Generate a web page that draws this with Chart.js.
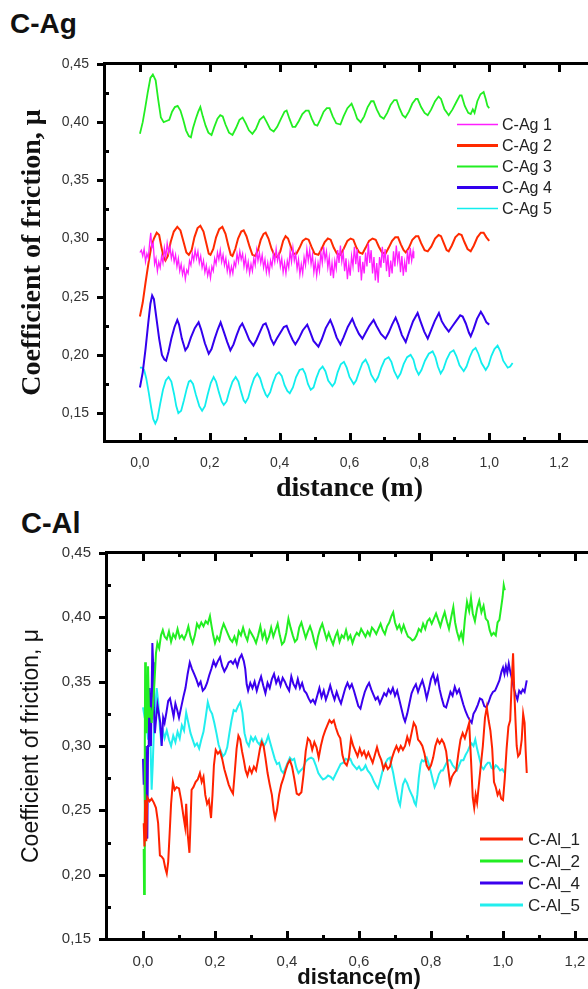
<!DOCTYPE html>
<html><head><meta charset="utf-8">
<script src="https://cdn.jsdelivr.net/npm/chart.js@4.4.1/dist/chart.umd.min.js"></script>
<style>
html,body{margin:0;padding:0;background:#fff;width:588px;height:989px;overflow:hidden;position:relative;}
.ttl{position:absolute;font-family:'Liberation Sans',Arial,sans-serif;font-weight:bold;color:#111;white-space:nowrap;}
#t1{left:10px;top:10px;font-size:28px;line-height:28px;}
#t2{left:21px;top:509px;font-size:29px;line-height:29px;}
canvas{position:absolute;left:0;}
#c1{top:0;}
#c2{top:505px;}
</style></head><body>
<div class="ttl" id="t1">C-Ag</div>
<div class="ttl" id="t2">C-Al</div>
<canvas id="c1" width="620" height="520"></canvas>
<canvas id="c2" width="620" height="500"></canvas>
<script>
// ---------- tick values & labels ----------
const xTicks = [0, 0.2, 0.4, 0.6, 0.8, 1.0, 1.2];
const xTickLabels = ['0,0', '0,2', '0,4', '0,6', '0,8', '1,0', '1,2'];
const xMinor = [0.1, 0.3, 0.5, 0.7, 0.9, 1.1];
const yTicks = [0.15, 0.20, 0.25, 0.30, 0.35, 0.40, 0.45];
const yTickLabels = ['0,15', '0,20', '0,25', '0,30', '0,35', '0,40', '0,45'];
const yMinor = [0.175, 0.225, 0.275, 0.325, 0.375, 0.425];

// ---------- C-Ag series ----------
const agLabels = ['C-Ag 1', 'C-Ag 2', 'C-Ag 3', 'C-Ag 4', 'C-Ag 5'];
const ag1 = [[0.000,0.288],[0.004,0.290],[0.008,0.285],[0.012,0.291],[0.016,0.280],[0.020,0.287],[0.024,0.283],[0.028,0.297],[0.031,0.305],[0.034,0.292],[0.038,0.296],[0.042,0.278],[0.046,0.283],[0.050,0.272],[0.054,0.280],[0.058,0.275],[0.062,0.285],[0.066,0.279],[0.070,0.292],[0.074,0.284],[0.078,0.296],[0.082,0.288],[0.086,0.293],[0.090,0.283],[0.094,0.289],[0.098,0.280],[0.102,0.286],[0.106,0.276],[0.110,0.283],[0.114,0.272],[0.118,0.278],[0.122,0.269],[0.126,0.275],[0.130,0.265],[0.134,0.273],[0.138,0.270],[0.142,0.281],[0.146,0.277],[0.150,0.287],[0.154,0.281],[0.158,0.290],[0.162,0.283],[0.166,0.289],[0.170,0.279],[0.174,0.285],[0.178,0.275],[0.182,0.281],[0.186,0.271],[0.190,0.277],[0.194,0.268],[0.198,0.274],[0.202,0.266],[0.206,0.276],[0.210,0.272],[0.214,0.283],[0.218,0.278],[0.222,0.288],[0.226,0.282],[0.230,0.290],[0.234,0.280],[0.238,0.286],[0.242,0.277],[0.246,0.283],[0.250,0.272],[0.254,0.279],[0.258,0.269],[0.262,0.276],[0.266,0.270],[0.270,0.280],[0.274,0.276],[0.278,0.287],[0.282,0.280],[0.286,0.289],[0.290,0.282],[0.294,0.287],[0.298,0.276],[0.302,0.284],[0.306,0.273],[0.310,0.280],[0.314,0.270],[0.318,0.278],[0.322,0.272],[0.326,0.283],[0.330,0.277],[0.334,0.290],[0.338,0.281],[0.342,0.288],[0.346,0.279],[0.350,0.286],[0.354,0.275],[0.358,0.282],[0.362,0.271],[0.366,0.279],[0.370,0.270],[0.374,0.281],[0.378,0.276],[0.382,0.287],[0.386,0.280],[0.390,0.291],[0.394,0.281],[0.398,0.287],[0.402,0.276],[0.406,0.283],[0.410,0.271],[0.414,0.279],[0.418,0.270],[0.422,0.281],[0.426,0.275],[0.430,0.289],[0.434,0.280],[0.438,0.292],[0.442,0.281],[0.446,0.287],[0.450,0.274],[0.454,0.282],[0.458,0.269],[0.462,0.278],[0.466,0.270],[0.470,0.284],[0.474,0.277],[0.478,0.291],[0.482,0.281],[0.486,0.290],[0.490,0.278],[0.494,0.286],[0.498,0.271],[0.502,0.280],[0.506,0.268],[0.510,0.279],[0.514,0.272],[0.518,0.288],[0.522,0.279],[0.526,0.293],[0.530,0.282],[0.534,0.289],[0.538,0.275],[0.542,0.284],[0.546,0.268],[0.550,0.279],[0.554,0.266],[0.558,0.281],[0.562,0.274],[0.566,0.290],[0.570,0.279],[0.574,0.294],[0.578,0.280],[0.582,0.288],[0.586,0.272],[0.590,0.283],[0.594,0.265],[0.598,0.278],[0.602,0.268],[0.606,0.285],[0.610,0.276],[0.614,0.293],[0.618,0.278],[0.622,0.291],[0.626,0.271],[0.630,0.285],[0.634,0.264],[0.638,0.280],[0.642,0.270],[0.646,0.288],[0.650,0.276],[0.654,0.296],[0.658,0.279],[0.662,0.290],[0.666,0.270],[0.670,0.284],[0.674,0.264],[0.678,0.279],[0.682,0.262],[0.686,0.284],[0.690,0.275],[0.694,0.293],[0.698,0.279],[0.702,0.291],[0.706,0.272],[0.710,0.286],[0.714,0.267],[0.718,0.281],[0.722,0.270],[0.726,0.289],[0.730,0.276],[0.734,0.294],[0.738,0.280],[0.742,0.289],[0.746,0.271],[0.750,0.285],[0.754,0.268],[0.758,0.280],[0.762,0.271],[0.766,0.290],[0.770,0.278],[0.774,0.292],[0.778,0.281],[0.782,0.289],[0.784,0.283]];
const ag2 = [[0.000,0.233],[0.008,0.245],[0.016,0.262],[0.024,0.278],[0.032,0.292],[0.040,0.300],[0.048,0.305],[0.055,0.303],[0.062,0.292],[0.068,0.284],[0.073,0.281],[0.080,0.285],[0.088,0.297],[0.097,0.306],[0.107,0.310],[0.116,0.307],[0.125,0.297],[0.133,0.288],[0.140,0.286],[0.148,0.290],[0.156,0.301],[0.165,0.309],[0.173,0.311],[0.182,0.306],[0.190,0.296],[0.197,0.287],[0.202,0.286],[0.210,0.291],[0.218,0.301],[0.227,0.308],[0.236,0.310],[0.245,0.304],[0.253,0.294],[0.260,0.286],[0.265,0.285],[0.273,0.291],[0.281,0.300],[0.290,0.306],[0.297,0.307],[0.305,0.302],[0.314,0.293],[0.322,0.286],[0.330,0.285],[0.338,0.290],[0.346,0.299],[0.354,0.304],[0.360,0.305],[0.368,0.300],[0.377,0.291],[0.386,0.285],[0.394,0.284],[0.402,0.289],[0.410,0.298],[0.417,0.302],[0.424,0.300],[0.432,0.293],[0.440,0.287],[0.448,0.287],[0.457,0.292],[0.466,0.298],[0.475,0.300],[0.483,0.299],[0.491,0.293],[0.500,0.287],[0.511,0.286],[0.520,0.291],[0.529,0.297],[0.538,0.300],[0.546,0.299],[0.555,0.292],[0.564,0.287],[0.574,0.286],[0.583,0.291],[0.594,0.298],[0.603,0.300],[0.611,0.299],[0.620,0.292],[0.628,0.288],[0.637,0.287],[0.646,0.292],[0.656,0.298],[0.666,0.300],[0.675,0.299],[0.684,0.293],[0.693,0.288],[0.703,0.287],[0.712,0.292],[0.722,0.298],[0.731,0.301],[0.739,0.301],[0.747,0.295],[0.755,0.290],[0.761,0.288],[0.770,0.292],[0.780,0.299],[0.790,0.302],[0.797,0.302],[0.805,0.296],[0.815,0.290],[0.824,0.289],[0.834,0.293],[0.845,0.300],[0.855,0.303],[0.862,0.302],[0.870,0.296],[0.878,0.290],[0.884,0.289],[0.893,0.294],[0.903,0.301],[0.913,0.304],[0.921,0.303],[0.929,0.297],[0.938,0.291],[0.947,0.289],[0.956,0.294],[0.966,0.301],[0.976,0.305],[0.984,0.305],[0.992,0.301],[1.000,0.298]];
const ag3 = [[0.000,0.390],[0.008,0.400],[0.015,0.412],[0.022,0.425],[0.030,0.438],[0.037,0.441],[0.045,0.436],[0.052,0.420],[0.060,0.404],[0.068,0.400],[0.076,0.401],[0.084,0.402],[0.092,0.409],[0.100,0.413],[0.108,0.414],[0.116,0.410],[0.124,0.402],[0.132,0.393],[0.140,0.388],[0.146,0.387],[0.152,0.395],[0.160,0.403],[0.167,0.409],[0.173,0.413],[0.180,0.405],[0.188,0.397],[0.196,0.391],[0.205,0.389],[0.213,0.396],[0.222,0.403],[0.230,0.406],[0.237,0.405],[0.245,0.398],[0.255,0.391],[0.265,0.389],[0.275,0.395],[0.285,0.402],[0.294,0.404],[0.303,0.399],[0.312,0.393],[0.322,0.390],[0.332,0.394],[0.343,0.402],[0.354,0.405],[0.363,0.400],[0.373,0.394],[0.383,0.392],[0.393,0.396],[0.404,0.403],[0.414,0.409],[0.420,0.410],[0.428,0.403],[0.437,0.396],[0.445,0.396],[0.455,0.401],[0.465,0.407],[0.475,0.410],[0.483,0.410],[0.492,0.403],[0.500,0.398],[0.508,0.397],[0.516,0.402],[0.526,0.409],[0.535,0.412],[0.543,0.412],[0.552,0.405],[0.562,0.399],[0.574,0.398],[0.583,0.405],[0.594,0.412],[0.606,0.416],[0.614,0.410],[0.622,0.403],[0.632,0.400],[0.642,0.405],[0.652,0.413],[0.662,0.418],[0.669,0.418],[0.678,0.411],[0.688,0.405],[0.698,0.403],[0.708,0.408],[0.718,0.415],[0.728,0.419],[0.735,0.419],[0.743,0.412],[0.752,0.406],[0.760,0.404],[0.770,0.409],[0.780,0.416],[0.790,0.420],[0.795,0.420],[0.805,0.413],[0.815,0.408],[0.824,0.406],[0.834,0.411],[0.845,0.418],[0.855,0.422],[0.862,0.420],[0.872,0.411],[0.884,0.406],[0.895,0.411],[0.907,0.418],[0.916,0.423],[0.921,0.423],[0.930,0.414],[0.940,0.408],[0.947,0.407],[0.953,0.411],[0.958,0.408],[0.966,0.418],[0.975,0.424],[0.984,0.426],[0.990,0.420],[0.995,0.414],[1.000,0.412]];
const ag4 = [[0.000,0.172],[0.008,0.185],[0.016,0.205],[0.024,0.228],[0.030,0.244],[0.035,0.251],[0.040,0.248],[0.047,0.232],[0.055,0.214],[0.063,0.200],[0.070,0.196],[0.075,0.195],[0.082,0.203],[0.090,0.214],[0.099,0.224],[0.107,0.230],[0.112,0.226],[0.120,0.214],[0.130,0.204],[0.137,0.207],[0.146,0.215],[0.157,0.223],[0.168,0.228],[0.175,0.222],[0.186,0.210],[0.197,0.201],[0.205,0.205],[0.214,0.214],[0.223,0.222],[0.231,0.228],[0.240,0.220],[0.250,0.211],[0.259,0.204],[0.268,0.209],[0.277,0.217],[0.286,0.224],[0.293,0.227],[0.302,0.221],[0.313,0.213],[0.325,0.208],[0.334,0.213],[0.344,0.220],[0.353,0.226],[0.360,0.227],[0.368,0.221],[0.375,0.214],[0.383,0.209],[0.392,0.214],[0.402,0.219],[0.412,0.224],[0.420,0.225],[0.428,0.219],[0.437,0.213],[0.445,0.209],[0.455,0.214],[0.466,0.221],[0.479,0.226],[0.487,0.220],[0.497,0.212],[0.511,0.207],[0.520,0.213],[0.532,0.223],[0.545,0.230],[0.553,0.224],[0.563,0.215],[0.574,0.209],[0.583,0.215],[0.595,0.224],[0.608,0.231],[0.616,0.225],[0.627,0.218],[0.637,0.214],[0.646,0.219],[0.657,0.225],[0.669,0.230],[0.677,0.225],[0.690,0.218],[0.703,0.214],[0.712,0.219],[0.722,0.226],[0.732,0.232],[0.740,0.226],[0.750,0.217],[0.761,0.211],[0.770,0.219],[0.782,0.229],[0.795,0.236],[0.803,0.229],[0.814,0.220],[0.824,0.214],[0.832,0.220],[0.844,0.229],[0.856,0.236],[0.864,0.229],[0.874,0.224],[0.884,0.220],[0.893,0.224],[0.905,0.229],[0.917,0.234],[0.924,0.233],[0.933,0.227],[0.942,0.219],[0.947,0.216],[0.955,0.222],[0.965,0.231],[0.976,0.237],[0.984,0.233],[0.992,0.228],[1.000,0.226]];
const ag5 = [[0.000,0.189],[0.006,0.189],[0.012,0.187],[0.018,0.180],[0.025,0.168],[0.032,0.155],[0.038,0.145],[0.044,0.141],[0.050,0.145],[0.058,0.158],[0.066,0.170],[0.074,0.178],[0.082,0.181],[0.090,0.177],[0.098,0.166],[0.104,0.156],[0.110,0.150],[0.118,0.152],[0.126,0.161],[0.134,0.171],[0.140,0.177],[0.145,0.178],[0.152,0.175],[0.160,0.166],[0.170,0.156],[0.178,0.152],[0.186,0.156],[0.194,0.166],[0.203,0.176],[0.211,0.181],[0.218,0.177],[0.226,0.168],[0.234,0.160],[0.240,0.157],[0.248,0.160],[0.256,0.169],[0.265,0.177],[0.274,0.181],[0.282,0.177],[0.290,0.168],[0.297,0.161],[0.302,0.159],[0.310,0.163],[0.318,0.172],[0.327,0.180],[0.336,0.184],[0.344,0.180],[0.352,0.172],[0.360,0.166],[0.365,0.164],[0.373,0.168],[0.381,0.176],[0.390,0.183],[0.398,0.185],[0.406,0.182],[0.414,0.174],[0.422,0.169],[0.429,0.167],[0.438,0.172],[0.447,0.181],[0.457,0.187],[0.466,0.188],[0.473,0.184],[0.481,0.175],[0.489,0.170],[0.497,0.172],[0.505,0.180],[0.514,0.187],[0.523,0.190],[0.531,0.186],[0.539,0.178],[0.551,0.173],[0.558,0.176],[0.566,0.185],[0.575,0.192],[0.584,0.194],[0.592,0.189],[0.600,0.181],[0.612,0.175],[0.619,0.178],[0.628,0.186],[0.637,0.193],[0.646,0.196],[0.654,0.191],[0.662,0.183],[0.674,0.177],[0.682,0.181],[0.691,0.189],[0.701,0.196],[0.712,0.198],[0.720,0.194],[0.728,0.186],[0.738,0.180],[0.746,0.184],[0.755,0.192],[0.765,0.198],[0.775,0.200],[0.783,0.196],[0.790,0.188],[0.798,0.183],[0.806,0.187],[0.816,0.195],[0.827,0.201],[0.838,0.203],[0.846,0.198],[0.853,0.190],[0.861,0.184],[0.869,0.188],[0.878,0.196],[0.888,0.202],[0.898,0.204],[0.906,0.199],[0.915,0.191],[0.927,0.186],[0.935,0.190],[0.944,0.198],[0.953,0.204],[0.961,0.206],[0.969,0.201],[0.978,0.193],[0.990,0.187],[0.998,0.191],[1.006,0.199],[1.015,0.205],[1.024,0.208],[1.032,0.203],[1.040,0.195],[1.053,0.189],[1.060,0.190],[1.067,0.193]];

// ---------- C-Al series ----------
const alLabels = ['C-Al_1', 'C-Al_2', 'C-Al_4', 'C-Al_5'];
const al1 = [[0.002,0.240],[0.004,0.222],[0.006,0.258],[0.009,0.226],[0.012,0.260],[0.018,0.257],[0.024,0.259],[0.030,0.256],[0.036,0.252],[0.042,0.240],[0.047,0.215],[0.052,0.214],[0.057,0.212],[0.062,0.205],[0.066,0.201],[0.070,0.210],[0.074,0.232],[0.078,0.255],[0.083,0.272],[0.088,0.266],[0.093,0.268],[0.100,0.267],[0.106,0.258],[0.112,0.246],[0.117,0.237],[0.120,0.255],[0.124,0.232],[0.129,0.217],[0.132,0.240],[0.135,0.266],[0.140,0.268],[0.146,0.272],[0.152,0.274],[0.158,0.279],[0.163,0.272],[0.168,0.276],[0.173,0.262],[0.178,0.255],[0.183,0.258],[0.189,0.244],[0.193,0.262],[0.197,0.285],[0.202,0.297],[0.208,0.294],[0.214,0.296],[0.220,0.290],[0.226,0.282],[0.232,0.276],[0.238,0.270],[0.244,0.266],[0.250,0.263],[0.255,0.280],[0.260,0.298],[0.265,0.308],[0.270,0.305],[0.275,0.296],[0.280,0.289],[0.285,0.281],[0.290,0.277],[0.296,0.283],[0.302,0.279],[0.308,0.284],[0.314,0.281],[0.320,0.290],[0.325,0.298],[0.330,0.303],[0.335,0.300],[0.340,0.291],[0.346,0.279],[0.352,0.270],[0.358,0.262],[0.363,0.250],[0.367,0.244],[0.372,0.250],[0.378,0.262],[0.384,0.270],[0.390,0.275],[0.396,0.281],[0.402,0.286],[0.408,0.289],[0.414,0.284],[0.420,0.275],[0.427,0.263],[0.433,0.262],[0.440,0.264],[0.446,0.278],[0.452,0.296],[0.458,0.306],[0.464,0.304],[0.470,0.297],[0.476,0.303],[0.482,0.299],[0.488,0.291],[0.494,0.300],[0.500,0.307],[0.506,0.312],[0.512,0.316],[0.518,0.320],[0.524,0.318],[0.530,0.320],[0.536,0.314],[0.542,0.309],[0.548,0.306],[0.554,0.293],[0.560,0.287],[0.566,0.285],[0.572,0.291],[0.578,0.306],[0.584,0.300],[0.590,0.296],[0.596,0.292],[0.602,0.298],[0.608,0.293],[0.614,0.296],[0.620,0.291],[0.626,0.295],[0.632,0.291],[0.638,0.287],[0.644,0.293],[0.650,0.299],[0.656,0.293],[0.662,0.289],[0.668,0.282],[0.674,0.286],[0.680,0.282],[0.686,0.284],[0.692,0.291],[0.698,0.296],[0.704,0.300],[0.710,0.296],[0.716,0.300],[0.722,0.297],[0.728,0.300],[0.734,0.307],[0.740,0.302],[0.746,0.310],[0.752,0.318],[0.758,0.315],[0.764,0.305],[0.770,0.303],[0.776,0.300],[0.782,0.294],[0.788,0.285],[0.794,0.282],[0.800,0.285],[0.806,0.291],[0.812,0.300],[0.818,0.305],[0.824,0.302],[0.830,0.305],[0.836,0.302],[0.842,0.296],[0.848,0.282],[0.853,0.271],[0.858,0.276],[0.864,0.279],[0.870,0.281],[0.876,0.294],[0.882,0.305],[0.888,0.310],[0.894,0.306],[0.900,0.312],[0.906,0.318],[0.911,0.290],[0.916,0.260],[0.920,0.252],[0.924,0.262],[0.928,0.256],[0.933,0.270],[0.938,0.284],[0.944,0.300],[0.950,0.322],[0.955,0.330],[0.960,0.320],[0.965,0.312],[0.970,0.298],[0.975,0.272],[0.980,0.268],[0.985,0.262],[0.990,0.265],[0.995,0.259],[1.000,0.258],[1.005,0.275],[1.010,0.298],[1.015,0.315],[1.020,0.320],[1.025,0.355],[1.028,0.372],[1.031,0.345],[1.035,0.318],[1.038,0.300],[1.042,0.292],[1.047,0.294],[1.052,0.305],[1.056,0.325],[1.060,0.318],[1.063,0.296],[1.066,0.279]];
const al2 = [[0.002,0.220],[0.003,0.185],[0.005,0.300],[0.006,0.365],[0.008,0.330],[0.010,0.310],[0.012,0.325],[0.014,0.362],[0.017,0.322],[0.020,0.330],[0.024,0.318],[0.028,0.332],[0.032,0.350],[0.036,0.372],[0.040,0.380],[0.045,0.376],[0.050,0.386],[0.055,0.390],[0.060,0.385],[0.066,0.383],[0.072,0.389],[0.078,0.381],[0.084,0.387],[0.090,0.384],[0.096,0.391],[0.102,0.384],[0.108,0.386],[0.114,0.383],[0.120,0.387],[0.126,0.393],[0.132,0.385],[0.138,0.380],[0.144,0.386],[0.150,0.395],[0.156,0.392],[0.162,0.396],[0.168,0.393],[0.174,0.397],[0.180,0.395],[0.186,0.401],[0.190,0.394],[0.195,0.386],[0.200,0.380],[0.206,0.385],[0.212,0.382],[0.218,0.390],[0.224,0.395],[0.230,0.391],[0.236,0.387],[0.242,0.383],[0.248,0.381],[0.254,0.385],[0.260,0.380],[0.266,0.389],[0.272,0.386],[0.278,0.392],[0.284,0.386],[0.290,0.382],[0.296,0.390],[0.302,0.387],[0.308,0.384],[0.314,0.380],[0.320,0.386],[0.326,0.393],[0.332,0.384],[0.338,0.389],[0.344,0.381],[0.350,0.385],[0.356,0.392],[0.362,0.385],[0.368,0.390],[0.374,0.395],[0.380,0.386],[0.386,0.379],[0.392,0.381],[0.398,0.388],[0.404,0.399],[0.410,0.392],[0.416,0.386],[0.422,0.381],[0.428,0.383],[0.434,0.392],[0.440,0.396],[0.446,0.390],[0.452,0.384],[0.458,0.389],[0.464,0.393],[0.470,0.388],[0.476,0.381],[0.481,0.377],[0.486,0.385],[0.492,0.391],[0.498,0.395],[0.504,0.389],[0.510,0.383],[0.516,0.388],[0.522,0.383],[0.528,0.379],[0.534,0.385],[0.540,0.389],[0.546,0.381],[0.552,0.386],[0.558,0.384],[0.564,0.390],[0.570,0.383],[0.576,0.386],[0.582,0.380],[0.588,0.385],[0.594,0.388],[0.600,0.386],[0.606,0.391],[0.612,0.388],[0.618,0.385],[0.624,0.389],[0.630,0.386],[0.636,0.392],[0.642,0.390],[0.648,0.387],[0.654,0.391],[0.660,0.395],[0.666,0.390],[0.672,0.387],[0.678,0.393],[0.684,0.396],[0.690,0.401],[0.695,0.404],[0.700,0.396],[0.706,0.391],[0.712,0.394],[0.718,0.389],[0.724,0.394],[0.730,0.389],[0.736,0.385],[0.742,0.384],[0.748,0.382],[0.754,0.383],[0.760,0.386],[0.766,0.391],[0.772,0.389],[0.778,0.395],[0.784,0.391],[0.790,0.397],[0.796,0.399],[0.802,0.395],[0.808,0.399],[0.814,0.403],[0.820,0.398],[0.826,0.393],[0.832,0.399],[0.838,0.404],[0.844,0.397],[0.850,0.391],[0.856,0.400],[0.862,0.408],[0.867,0.396],[0.872,0.389],[0.878,0.383],[0.884,0.388],[0.889,0.382],[0.894,0.398],[0.900,0.412],[0.906,0.405],[0.911,0.415],[0.916,0.403],[0.922,0.397],[0.928,0.407],[0.934,0.413],[0.940,0.404],[0.946,0.409],[0.952,0.399],[0.958,0.397],[0.963,0.390],[0.968,0.386],[0.974,0.388],[0.980,0.386],[0.985,0.396],[0.990,0.398],[0.995,0.408],[0.999,0.416],[1.002,0.425],[1.005,0.421]];
const al4 = [[0.000,0.290],[0.002,0.270],[0.004,0.285],[0.006,0.245],[0.008,0.300],[0.010,0.262],[0.012,0.228],[0.014,0.300],[0.016,0.335],[0.018,0.345],[0.020,0.325],[0.022,0.300],[0.024,0.340],[0.026,0.380],[0.028,0.365],[0.030,0.330],[0.033,0.310],[0.036,0.320],[0.040,0.332],[0.044,0.325],[0.048,0.318],[0.052,0.300],[0.056,0.322],[0.060,0.318],[0.065,0.326],[0.070,0.335],[0.075,0.337],[0.080,0.330],[0.085,0.323],[0.090,0.333],[0.095,0.328],[0.100,0.322],[0.106,0.330],[0.112,0.338],[0.118,0.345],[0.124,0.356],[0.130,0.365],[0.136,0.360],[0.142,0.356],[0.148,0.352],[0.154,0.347],[0.160,0.350],[0.166,0.343],[0.172,0.345],[0.178,0.349],[0.184,0.355],[0.190,0.360],[0.196,0.366],[0.202,0.362],[0.208,0.366],[0.214,0.369],[0.220,0.362],[0.226,0.358],[0.232,0.361],[0.238,0.365],[0.244,0.366],[0.250,0.364],[0.256,0.367],[0.262,0.362],[0.268,0.368],[0.274,0.371],[0.280,0.366],[0.284,0.360],[0.288,0.348],[0.292,0.343],[0.298,0.349],[0.304,0.345],[0.310,0.350],[0.316,0.343],[0.322,0.349],[0.328,0.354],[0.334,0.347],[0.340,0.341],[0.346,0.349],[0.352,0.345],[0.358,0.352],[0.364,0.356],[0.370,0.349],[0.376,0.353],[0.382,0.347],[0.388,0.353],[0.394,0.350],[0.400,0.346],[0.406,0.343],[0.412,0.354],[0.418,0.348],[0.424,0.345],[0.430,0.352],[0.436,0.345],[0.442,0.349],[0.448,0.343],[0.454,0.341],[0.460,0.337],[0.466,0.334],[0.472,0.336],[0.478,0.333],[0.484,0.339],[0.490,0.345],[0.496,0.338],[0.502,0.343],[0.508,0.336],[0.514,0.341],[0.520,0.347],[0.526,0.341],[0.532,0.336],[0.538,0.342],[0.544,0.337],[0.550,0.333],[0.556,0.339],[0.562,0.345],[0.568,0.349],[0.574,0.345],[0.580,0.348],[0.586,0.343],[0.592,0.337],[0.598,0.331],[0.604,0.329],[0.610,0.336],[0.616,0.342],[0.622,0.346],[0.628,0.349],[0.634,0.344],[0.640,0.340],[0.646,0.336],[0.652,0.338],[0.658,0.333],[0.664,0.337],[0.670,0.341],[0.676,0.339],[0.682,0.344],[0.688,0.341],[0.694,0.345],[0.700,0.339],[0.706,0.343],[0.712,0.336],[0.718,0.329],[0.724,0.322],[0.728,0.319],[0.734,0.325],[0.740,0.333],[0.746,0.341],[0.752,0.345],[0.758,0.348],[0.764,0.342],[0.770,0.347],[0.776,0.351],[0.782,0.345],[0.788,0.337],[0.794,0.344],[0.800,0.352],[0.806,0.356],[0.812,0.349],[0.818,0.354],[0.824,0.344],[0.830,0.337],[0.836,0.331],[0.842,0.330],[0.848,0.336],[0.854,0.342],[0.860,0.339],[0.866,0.346],[0.872,0.341],[0.878,0.344],[0.884,0.338],[0.890,0.332],[0.896,0.327],[0.902,0.323],[0.908,0.320],[0.913,0.318],[0.918,0.325],[0.924,0.328],[0.930,0.332],[0.936,0.337],[0.942,0.336],[0.948,0.331],[0.954,0.330],[0.960,0.334],[0.966,0.339],[0.972,0.342],[0.978,0.343],[0.984,0.347],[0.990,0.351],[0.996,0.358],[1.000,0.361],[1.004,0.356],[1.008,0.362],[1.012,0.357],[1.016,0.364],[1.020,0.358],[1.025,0.352],[1.030,0.345],[1.035,0.340],[1.040,0.336],[1.045,0.343],[1.050,0.341],[1.055,0.344],[1.060,0.342],[1.066,0.351]];
const al5 = [[0.000,0.330],[0.003,0.325],[0.006,0.328],[0.010,0.318],[0.014,0.305],[0.018,0.322],[0.021,0.300],[0.024,0.266],[0.027,0.285],[0.030,0.310],[0.034,0.330],[0.038,0.345],[0.042,0.335],[0.046,0.318],[0.050,0.305],[0.055,0.312],[0.060,0.306],[0.066,0.312],[0.072,0.305],[0.078,0.300],[0.084,0.308],[0.090,0.303],[0.096,0.311],[0.102,0.306],[0.108,0.316],[0.114,0.312],[0.120,0.326],[0.126,0.318],[0.132,0.310],[0.138,0.305],[0.144,0.300],[0.150,0.302],[0.156,0.298],[0.162,0.305],[0.168,0.311],[0.174,0.322],[0.180,0.334],[0.186,0.328],[0.192,0.325],[0.198,0.318],[0.204,0.310],[0.210,0.301],[0.216,0.296],[0.222,0.292],[0.228,0.294],[0.234,0.299],[0.240,0.310],[0.246,0.320],[0.252,0.328],[0.258,0.327],[0.264,0.331],[0.270,0.334],[0.276,0.326],[0.282,0.310],[0.288,0.303],[0.294,0.300],[0.300,0.307],[0.306,0.304],[0.312,0.307],[0.318,0.303],[0.324,0.301],[0.330,0.305],[0.336,0.300],[0.342,0.303],[0.348,0.308],[0.354,0.302],[0.360,0.296],[0.366,0.290],[0.372,0.286],[0.378,0.287],[0.384,0.281],[0.390,0.279],[0.396,0.283],[0.402,0.287],[0.408,0.291],[0.414,0.289],[0.420,0.290],[0.426,0.283],[0.432,0.279],[0.438,0.281],[0.445,0.283],[0.452,0.288],[0.460,0.290],[0.467,0.291],[0.473,0.290],[0.480,0.285],[0.487,0.279],[0.494,0.276],[0.500,0.274],[0.507,0.275],[0.514,0.277],[0.521,0.276],[0.528,0.274],[0.535,0.278],[0.542,0.282],[0.549,0.286],[0.556,0.287],[0.563,0.290],[0.570,0.289],[0.576,0.290],[0.582,0.286],[0.588,0.284],[0.594,0.282],[0.600,0.284],[0.606,0.281],[0.612,0.282],[0.618,0.285],[0.624,0.281],[0.630,0.279],[0.636,0.276],[0.642,0.272],[0.648,0.269],[0.653,0.267],[0.658,0.272],[0.664,0.279],[0.669,0.284],[0.674,0.287],[0.680,0.290],[0.686,0.291],[0.690,0.285],[0.695,0.279],[0.700,0.271],[0.705,0.264],[0.710,0.257],[0.714,0.254],[0.718,0.262],[0.722,0.270],[0.728,0.274],[0.734,0.271],[0.740,0.266],[0.745,0.263],[0.750,0.260],[0.754,0.256],[0.758,0.254],[0.762,0.262],[0.766,0.275],[0.771,0.286],[0.775,0.289],[0.780,0.288],[0.788,0.291],[0.795,0.285],[0.802,0.277],[0.810,0.268],[0.816,0.272],[0.822,0.278],[0.828,0.281],[0.833,0.281],[0.840,0.285],[0.847,0.289],[0.853,0.289],[0.860,0.285],[0.866,0.283],[0.872,0.281],[0.878,0.285],[0.884,0.289],[0.890,0.289],[0.896,0.293],[0.902,0.296],[0.908,0.300],[0.913,0.302],[0.918,0.300],[0.923,0.305],[0.928,0.298],[0.934,0.291],[0.940,0.284],[0.946,0.282],[0.952,0.285],[0.958,0.287],[0.963,0.287],[0.968,0.283],[0.974,0.282],[0.980,0.285],[0.985,0.284],[0.992,0.281],[0.998,0.282],[1.005,0.279]];

// ---------- plugins ----------
const MAJOR = 8, MINOR = 4, YOUT = 6, TW = 3;
const TICK_COLOR = '#000';
const framePlugin = {
  id: 'axisFrame',
  afterDraw(chart) {
    const ctx = chart.ctx;
    const a = chart.chartArea;
    const xs = chart.scales.x, ys = chart.scales.y;
    const L = Math.round(a.left), R = Math.round(a.right), T = Math.round(a.top), B = Math.round(a.bottom);
    ctx.save();
    ctx.fillStyle = '#000';
    ctx.fillRect(L - 2, T - 2, R - L + 4, 3);
    ctx.fillRect(L - 2, B - 1, R - L + 4, 3);
    ctx.fillRect(L - 2, T - 2, 3, B - T + 4);
    ctx.fillRect(R - 1, T - 2, 3, B - T + 4);
    ctx.fillStyle = TICK_COLOR;
    xTicks.forEach(v => {
      const p = Math.round(xs.getPixelForValue(v));
      ctx.fillRect(p - 1, B - MAJOR, TW, MAJOR);
      ctx.fillRect(p - 1, T, TW, MAJOR);
    });
    xMinor.forEach(v => {
      const p = Math.round(xs.getPixelForValue(v));
      ctx.fillRect(p - 1, B - MINOR, TW, MINOR);
      ctx.fillRect(p - 1, T, TW, MINOR);
    });
    yTicks.forEach(v => {
      const p = Math.round(ys.getPixelForValue(v));
      ctx.fillRect(L - 2 - YOUT, p - 1, YOUT, TW);
      ctx.fillRect(R - YOUT, p - 1, YOUT, TW);
    });
    yMinor.forEach(v => {
      const p = Math.round(ys.getPixelForValue(v));
      ctx.fillRect(L, p - 1, MINOR, TW);
      ctx.fillRect(R - MINOR, p - 1, MINOR, TW);
    });
    ctx.restore();
  }
};
const legendPlugin = {
  id: 'boxLegend',
  afterDraw(chart, args, o) {
    const ctx = chart.ctx;
    ctx.save();
    ctx.font = o.font;
    ctx.fillStyle = '#222';
    ctx.textBaseline = 'middle';
    ctx.textAlign = 'left';
    chart.data.datasets.forEach((ds, i) => {
      const yy = o.y0 + i * o.dy;
      ctx.strokeStyle = ds.borderColor;
      ctx.lineWidth = ds.legendWidth;
      ctx.beginPath(); ctx.moveTo(o.x0, yy); ctx.lineTo(o.x1, yy); ctx.stroke();
      ctx.fillText(ds.label, o.tx, yy + 1);
    });
    ctx.restore();
  }
};

function series(label, pts, color, w, lw) {
  return { label, data: pts, borderColor: color, backgroundColor: color, borderWidth: w,
    legendWidth: lw, pointRadius: 0, tension: 0, fill: false };
}

function makeChart(id, datasets, cfg) {
  return new Chart(document.getElementById(id), {
    type: 'line',
    data: { datasets },
    plugins: [legendPlugin, framePlugin],
    options: {
      responsive: false, animation: false, devicePixelRatio: 1,
      layout: { padding: cfg.pad },
      plugins: { legend: { display: false }, tooltip: { enabled: false }, boxLegend: cfg.legend },
      scales: {
        x: { type: 'linear', min: -0.1, max: 1.3,
          grid: { display: false }, border: { display: false },
          afterBuildTicks: s => { s.ticks = xTicks.map(v => ({ value: v })); },
          afterFit: s => { s.height = cfg.xH; },
          ticks: { padding: 6, color: '#333', font: { family: "'Liberation Sans', Arial, sans-serif", size: cfg.tickSize },
            callback: v => xTickLabels[xTicks.findIndex(t => Math.abs(t - v) < 1e-6)] ?? '' },
          title: { display: true, text: cfg.xTitle, color: '#111', font: cfg.xFont, padding: { top: 0, bottom: cfg.xTitlePad } } },
        y: { type: 'linear', min: cfg.yMin, max: 0.45,
          grid: { display: false }, border: { display: false },
          afterBuildTicks: s => { s.ticks = yTicks.map(v => ({ value: v })); },
          afterFit: s => { s.width = cfg.yW; },
          ticks: { padding: cfg.yPad, color: '#333', font: { family: "'Liberation Sans', Arial, sans-serif", size: cfg.tickSize },
            callback: v => yTickLabels[yTicks.findIndex(t => Math.abs(t - v) < 1e-6)] ?? '' },
          title: { display: true, text: 'Coefficient of friction, \u03bc', color: '#111', font: cfg.yFont, padding: { top: cfg.yTitlePad, bottom: 0 } } }
      }
    }
  });
}

makeChart('c1', [
  series(agLabels[0], ag1, '#ff1eff', 1.3, 1.5),
  series(agLabels[1], ag2, '#ff2a00', 2, 3),
  series(agLabels[2], ag3, '#22ee22', 1.8, 2),
  series(agLabels[3], ag4, '#3300ee', 2, 3),
  series(agLabels[4], ag5, '#11eeee', 1.8, 1.5)
], {
  pad: { top: 64, left: 0, right: 26, bottom: 0 }, xH: 79, yW: 105, yMin: 0.126, tickSize: 14, yPad: 8,
  xTitle: 'distance (m)', xFont: { family: "'Liberation Serif', 'Times New Roman', serif", size: 28, weight: 'bold' }, xTitlePad: 14.7,
  yFont: { family: "'Liberation Serif', 'Times New Roman', serif", size: 28, weight: 'bold' }, yTitlePad: 15.7,
  legend: { x0: 457, x1: 498, tx: 502, y0: 124.5, dy: 21, font: "16px 'Liberation Sans', Arial, sans-serif" }
});

makeChart('c2', [
  series(alLabels[0], al1, '#ff2200', 2, 3),
  series(alLabels[1], al2, '#22ee22', 2, 3),
  series(alLabels[2], al4, '#3a00ee', 2, 3),
  series(alLabels[3], al5, '#22eeee', 2, 3)
], {
  pad: { top: 48, left: 0, right: 9, bottom: 0 }, xH: 66, yW: 107, yMin: 0.15, tickSize: 15, yPad: 8,
  xTitle: 'distance(m)', xFont: { family: "'Liberation Sans', Arial, sans-serif", size: 22, weight: 'bold' }, xTitlePad: 13.4,
  yFont: { family: "'Liberation Sans', Arial, sans-serif", size: 23, weight: 'normal' }, yTitlePad: 18.2,
  legend: { x0: 480, x1: 523, tx: 528, y0: 334, dy: 22, font: "17px 'Liberation Sans', Arial, sans-serif" }
});
</script>
</body></html>
